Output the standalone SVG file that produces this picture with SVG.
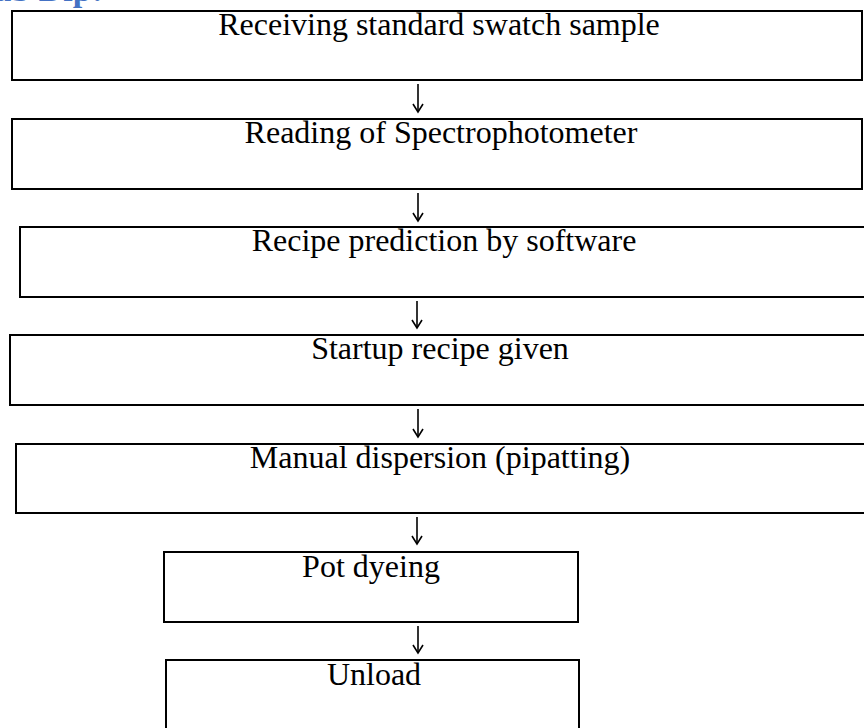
<svg xmlns="http://www.w3.org/2000/svg" width="864" height="728" viewBox="0 0 864 728">
  <style>
    .box { fill: #ffffff; stroke: #000000; stroke-width: 2; }
    .label { font-family: "Liberation Serif", "Times New Roman", serif; font-size: 32px; fill: #000000; text-anchor: middle; }
    .heading { font-family: "Liberation Serif", "Times New Roman", serif; font-size: 34px; font-weight: bold; fill: #4472C4; text-anchor: end; }
    .link { stroke: #000000; stroke-width: 1.6; fill: none; }
  </style>
  <defs>
    <!-- open arrowhead, drawn pointing along +x so orient="auto" turns it with the line -->
    <marker id="head" viewBox="0 0 12 12" refX="10" refY="6" markerWidth="12" markerHeight="12" markerUnits="userSpaceOnUse" orient="auto">
      <path d="M2,1 L10,6 L2,11" fill="none" stroke="#000000" stroke-width="1.6"/>
    </marker>
  </defs>
  <rect width="864" height="728" fill="#ffffff"/>

  <!-- section heading, partly above the page edge -->
  <text class="heading" x="103" y="1">Lab Dip:</text>

  <g id="step-receiving">
    <rect class="box" x="12" y="11" width="850" height="69"/>
    <text class="label" x="439" y="35">Receiving standard swatch sample</text>
  </g>
  <g id="step-reading">
    <rect class="box" x="12" y="119" width="850" height="70"/>
    <text class="label" x="441" y="143">Reading of Spectrophotometer</text>
  </g>
  <g id="step-prediction">
    <rect class="box" x="20" y="227" width="860" height="70"/>
    <text class="label" x="444" y="251">Recipe prediction by software</text>
  </g>
  <g id="step-startup">
    <rect class="box" x="10" y="335" width="870" height="70"/>
    <text class="label" x="440" y="359">Startup recipe given</text>
  </g>
  <g id="step-dispersion">
    <rect class="box" x="16" y="444" width="864" height="69"/>
    <text class="label" x="440" y="468">Manual dispersion (pipatting)</text>
  </g>
  <g id="step-pot-dyeing">
    <rect class="box" x="164" y="552" width="414" height="70"/>
    <text class="label" x="371" y="577">Pot dyeing</text>
  </g>
  <g id="step-unload">
    <rect class="box" x="166" y="660" width="413" height="80"/>
    <text class="label" x="374" y="685">Unload</text>
  </g>

  <g id="connectors">
    <line class="link" x1="418" y1="84" x2="418" y2="112" marker-end="url(#head)"/>
    <line class="link" x1="418" y1="193" x2="418" y2="221" marker-end="url(#head)"/>
    <line class="link" x1="417" y1="301" x2="417" y2="328" marker-end="url(#head)"/>
    <line class="link" x1="418" y1="409" x2="418" y2="437" marker-end="url(#head)"/>
    <line class="link" x1="417" y1="517" x2="417" y2="544" marker-end="url(#head)"/>
    <line class="link" x1="418" y1="626" x2="418" y2="653" marker-end="url(#head)"/>
  </g>
</svg>
